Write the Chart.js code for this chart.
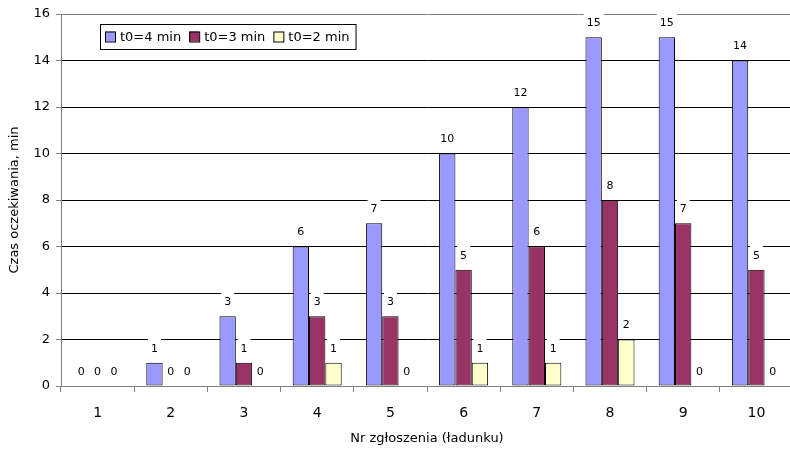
<!DOCTYPE html>
<html>
<head>
<meta charset="utf-8">
<script src="https://cdn.jsdelivr.net/npm/chart.js@4.4.1/dist/chart.umd.min.js"></script>
<style>
    html, body { margin: 0; padding: 0; background: #fff; overflow: hidden; }
</style>
</head>
<body>
<canvas id="chart" width="800" height="451"></canvas>
<script>
// Chart data
const categories = ['1', '2', '3', '4', '5', '6', '7', '8', '9', '10'];
const seriesNames = ['t0=4 min', 't0=3 min', 't0=2 min'];
const waitT4 = [0, 1, 3, 6, 7, 10, 12, 15, 15, 14];
const waitT3 = [0, 0, 1, 3, 3, 5, 6, 8, 7, 5];
const waitT2 = [0, 0, 0, 1, 0, 1, 1, 2, 0, 0];
const yMin = 0;
const yMax = 16;
const yStep = 2;

const colors = ['#9999FF', '#993366', '#FFFFCC'];
const fontFamily = '"DejaVu Sans", Verdana, sans-serif';

Chart.defaults.font.family = fontFamily;
Chart.defaults.color = '#000';

// Value labels: white box behind (before bars), text on top (after bars).
const valueLabels = {
    id: 'valueLabels',
    labelItems(chart) {
        const items = [];
        chart.data.datasets.forEach((ds, i) => {
            const meta = chart.getDatasetMeta(i);
            meta.data.forEach((bar, j) => {
                items.push({ x: bar.x, y: bar.y - 14, text: String(ds.data[j]) });
            });
        });
        return items;
    },
    beforeDatasetsDraw(chart) {
        const ctx = chart.ctx;
        ctx.save();
        ctx.font = '11px ' + fontFamily;
        ctx.fillStyle = '#fff';
        for (const it of this.labelItems(chart)) {
            const w = ctx.measureText(it.text).width + 6;
            ctx.fillRect(it.x - w / 2, it.y - 10, w, 19);
        }
        ctx.restore();
    },
    afterDatasetsDraw(chart) {
        const ctx = chart.ctx;
        ctx.save();
        ctx.font = '11px ' + fontFamily;
        ctx.fillStyle = '#000';
        ctx.textAlign = 'center';
        ctx.textBaseline = 'middle';
        for (const it of this.labelItems(chart)) {
            ctx.fillText(it.text, it.x, it.y);
        }
        ctx.restore();
    }
};

// Legend box inside the plot area, top left.
const boxLegend = {
    id: 'boxLegend',
    afterDraw(chart) {
        const ctx = chart.ctx;
        const area = chart.chartArea;
        ctx.save();
        ctx.font = '13px ' + fontFamily;
        const left = area.left + 39;
        const top = area.top + 10;
        const h = 25;
        let x = left + 5;
        const parts = [];
        chart.data.datasets.forEach((ds) => {
            const tw = ctx.measureText(ds.label).width;
            parts.push({ x: x, label: ds.label, color: ds.backgroundColor });
            x += 10 + 5 + tw + 8;
        });
        const w = x - left - 2;
        ctx.fillStyle = '#fff';
        ctx.fillRect(left, top, w, h);
        ctx.strokeStyle = '#000';
        ctx.lineWidth = 1;
        ctx.strokeRect(left + 0.5, top + 0.5, w, h);
        const cy = top + h / 2;
        ctx.textBaseline = 'middle';
        for (const p of parts) {
            ctx.fillStyle = p.color;
            ctx.fillRect(p.x, cy - 5, 10, 10);
            ctx.strokeRect(p.x + 0.5, cy - 5 + 0.5, 10, 10);
            ctx.fillStyle = '#000';
            ctx.fillText(p.label, p.x + 15, cy + 1);
        }
        ctx.restore();
    }
};

function makeDataset(label, data, color) {
    return {
        label: label,
        data: data,
        backgroundColor: color,
        borderColor: '#000',
        borderWidth: (c) => (c.raw === 0 ? 0 : 1),
        borderSkipped: false,
        inflateAmount: 0,
        categoryPercentage: 0.67,
        barPercentage: 1.0
    };
}

const config = {
    type: 'bar',
    data: {
        labels: categories,
        datasets: [
            makeDataset(seriesNames[0], waitT4, colors[0]),
            makeDataset(seriesNames[1], waitT3, colors[1]),
            makeDataset(seriesNames[2], waitT2, colors[2])
        ]
    },
    options: {
        responsive: false,
        animation: false,
        layout: { padding: { top: 14, right: 7, left: 0, bottom: 0 } },
        plugins: {
            legend: { display: false },
            tooltip: { enabled: false }
        },
        scales: {
            x: {
                grid: {
                    drawOnChartArea: false,
                    drawTicks: true,
                    tickLength: 6,
                    tickColor: '#808080'
                },
                border: { color: '#808080' },
                ticks: { font: { size: 14 }, padding: 13, maxRotation: 0 },
                title: {
                    display: true,
                    text: 'Nr zgłoszenia (ładunku)',
                    font: { size: 13 },
                    padding: { top: 0, bottom: 5 }
                },
                afterFit(scale) { scale.height = 65; }
            },
            y: {
                min: yMin,
                max: yMax,
                ticks: { stepSize: yStep, font: { size: 13 }, padding: 6 },
                grid: {
                    color: (c) => (c.tick && (c.tick.value === yMax || c.tick.value === yMin) ? '#808080' : '#000'),
                    tickColor: '#808080',
                    tickLength: 5
                },
                border: { color: '#808080' },
                title: {
                    display: true,
                    text: 'Czas oczekiwania, min',
                    font: { size: 13 },
                    padding: { top: 7, bottom: 0 }
                },
                afterFit(scale) { scale.width = 61; }
            }
        }
    },
    plugins: [valueLabels, boxLegend]
};

new Chart(document.getElementById('chart'), config);
</script>
</body>
</html>
